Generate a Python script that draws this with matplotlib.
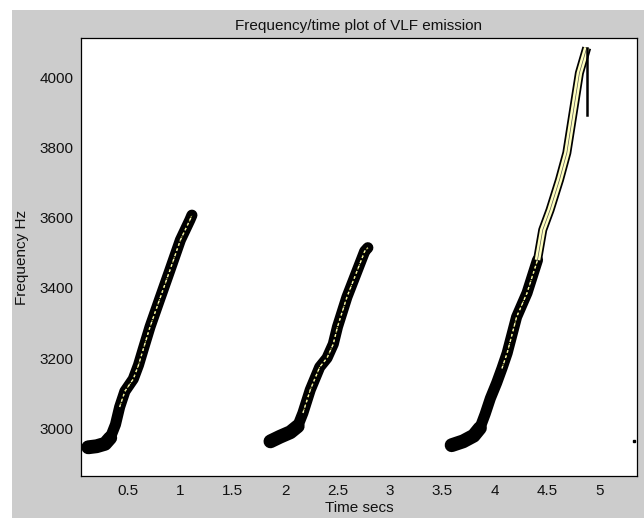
import matplotlib
matplotlib.use("Agg")
import matplotlib.pyplot as plt
from matplotlib.patches import Rectangle

# Chirp centre-lines (time s, frequency Hz)
c1_t = [0.12, 0.20, 0.28, 0.33, 0.38, 0.42, 0.47, 0.55, 0.60, 0.645, 0.71, 0.80, 0.90, 1.00, 1.09, 1.11]
c1_f = [2945, 2948, 2955, 2972, 3010, 3060, 3105, 3140, 3180, 3225, 3289, 3366, 3451, 3537, 3594, 3608]
c2_t = [1.86, 1.95, 2.05, 2.12, 2.17, 2.24, 2.33, 2.40, 2.46, 2.50, 2.59, 2.69, 2.76, 2.79]
c2_f = [2962, 2975, 2988, 3005, 3043, 3109, 3174, 3200, 3240, 3289, 3374, 3451, 3505, 3515]
c3_t = [3.59, 3.70, 3.80, 3.86, 3.91, 3.96, 4.02, 4.07, 4.12, 4.21, 4.31, 4.41, 4.46, 4.53, 4.62, 4.69, 4.75, 4.81, 4.88]
c3_f = [2951, 2962, 2978, 3000, 3040, 3085, 3129, 3170, 3214, 3317, 3386, 3480, 3566, 3623, 3709, 3786, 3900, 4014, 4086]
spike_t = [4.885, 4.885]
spike_f = [4086, 3894]
dot_t = [5.33]
dot_f = [2963]

# indices where the yellow core starts to show / where the band gets thin
c1_yel = 5
c2_yel = 4
c3_yel = 11

xticks = [0.5, 1, 1.5, 2, 2.5, 3, 3.5, 4, 4.5, 5]
xticklabels = ["0.5", "1", "1.5", "2", "2.5", "3", "3.5", "4", "4.5", "5"]
yticks = [3000, 3200, 3400, 3600, 3800, 4000]

plt.rcParams['font.family'] = ['Liberation Sans', 'DejaVu Sans']

W, H = 644, 518
fig = plt.figure(figsize=(W / 100, H / 100), dpi=100, facecolor='white')
fig.patches.append(Rectangle((12 / W, 0), 1 - 12 / W, 1 - 10 / H,
                             transform=fig.transFigure, facecolor='#cccccc',
                             edgecolor='none', zorder=-10))

ax = fig.add_axes([80.7 / W, (H - 476) / H, (637 - 80.7) / W, (476 - 38) / H])
ax.set_facecolor('white')

yellow = '#ffffc0'
for t, f, k in [(c1_t, c1_f, c1_yel), (c2_t, c2_f, c2_yel),
                (c3_t[:c3_yel + 1], c3_f[:c3_yel + 1], 7)]:
    ax.plot(t[:4], f[:4], color='black', lw=10, solid_capstyle='round', solid_joinstyle='round')
    ax.plot(t, f, color='black', lw=8, solid_capstyle='round', solid_joinstyle='round')
    ax.plot(t[k:], f[k:], color=yellow, lw=1.0, ls=(0, (2, 2)))
    ax.plot(t[k:], f[k:], color='#e8e860', lw=0.8, ls=(1, (1, 3)))

# upper, thinner part of third chirp: outlined pale band
t3u = c3_t[c3_yel:]
f3u = c3_f[c3_yel:]
ax.plot(t3u, f3u, color='black', lw=6.5, solid_capstyle='butt')
ax.plot(t3u, f3u, color=yellow, lw=4.0, solid_capstyle='butt')
ax.plot(t3u, f3u, color='#555555', lw=0.5)
ax.plot(spike_t, spike_f, color='black', lw=1.8)
ax.plot(dot_t, dot_f, 's', color='black', ms=1.5)

ax.set_xlim(0.048, 5.36)
ax.set_ylim(2863, 4114)
ax.set_xticks(xticks)
ax.set_xticklabels(xticklabels)
ax.set_yticks(yticks)
ax.tick_params(length=0, labelsize=11, colors='#111111')
ax.tick_params(axis='x', pad=6)
ax.tick_params(axis='y', pad=5)
for s in ax.spines.values():
    s.set_color('black')
    s.set_linewidth(0.9)

ax.set_title('Frequency/time plot of VLF emission', fontsize=11, pad=6, color='#111111')
ax.set_xlabel('Time secs', fontsize=11, labelpad=2, color='#111111')
ax.set_ylabel('Frequency Hz', fontsize=11, labelpad=8, color='#111111')

fig.savefig('out.png', dpi=100, facecolor=fig.get_facecolor())
